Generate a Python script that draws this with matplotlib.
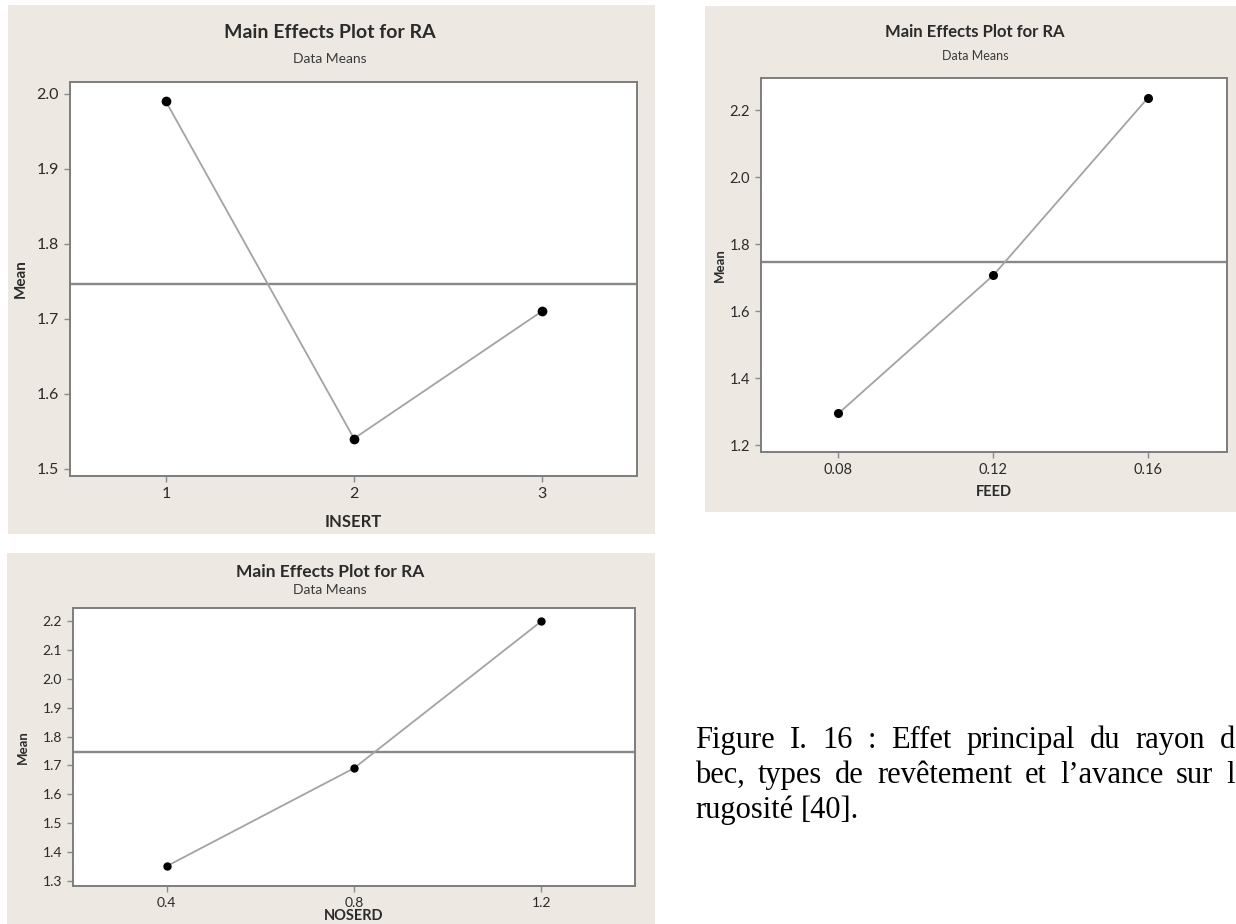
import numpy as np
import matplotlib
matplotlib.use("Agg")
import matplotlib.pyplot as plt
from matplotlib.patches import Rectangle

# ---- data: main-effect means of RA for each factor level ----
insert_levels = [1, 2, 3]
insert_labels = ["1", "2", "3"]
insert_means = [1.99, 1.54, 1.71]
insert_yticks = [1.5, 1.6, 1.7, 1.8, 1.9, 2.0]

feed_levels = [0.08, 0.12, 0.16]
feed_labels = ["0.08", "0.12", "0.16"]
feed_means = [1.295, 1.707, 2.237]
feed_yticks = [1.2, 1.4, 1.6, 1.8, 2.0, 2.2]

noserd_levels = [0.4, 0.8, 1.2]
noserd_labels = ["0.4", "0.8", "1.2"]
noserd_means = [1.35, 1.69, 2.20]
noserd_yticks = [1.3, 1.4, 1.5, 1.6, 1.7, 1.8, 1.9, 2.0, 2.1, 2.2]

title_text = "Main Effects Plot for RA"
subtitle_text = "Data Means"
caption_lines = [
    "Figure I. 16 : Effet principal du rayon d",
    "bec, types de revêtement et l’avance sur l",
    "rugosité [40].",
]

W, H = 1236, 924
BG = "#EDE9E2"
FRAME = "#7d7d7d"
LINE = "#a3a3a3"
MEANLINE = "#888888"
TXT = "#2b2b2b"
SANS = ["Lato", "DejaVu Sans"]

fig = plt.figure(figsize=(W / 100, H / 100), dpi=100)
fig.patch.set_facecolor("white")


def fx(x):
    return x / W


def fy(y):
    return 1 - y / H


def panel(bg_box, ax_box, levels, labels, means, yticks, xlim, ylim, xlabel,
          title_xy, sub_xy, title_fs, sub_fs, tick_fs, label_fs, xlabel_y,
          ylabel_x, msize):
    bx0, by0, bx1, by1 = bg_box
    fig.patches.append(Rectangle((fx(bx0), fy(by1)), (bx1 - bx0) / W,
                                 (by1 - by0) / H, transform=fig.transFigure,
                                 facecolor=BG, edgecolor="none", zorder=-5))
    l, t, r, b = ax_box
    ax = fig.add_axes([fx(l), fy(b), (r - l) / W, (b - t) / H])
    ax.set_zorder(2)
    ax.set_facecolor("white")
    ax.plot(levels, means, color=LINE, lw=1.3, zorder=2)
    ax.plot(levels, means, "o", color="black", ms=msize, zorder=3)
    ax.axhline(np.mean(means), color=MEANLINE, lw=1.7, zorder=1)
    ax.set_xlim(*xlim)
    ax.set_ylim(*ylim)
    ax.set_xticks(levels)
    ax.set_xticklabels(labels)
    ax.set_yticks(yticks)
    ax.set_yticklabels([f"{v:.1f}" for v in yticks])
    for s in ax.spines.values():
        s.set_color(FRAME)
        s.set_linewidth(1.4)
    ax.tick_params(direction="out", length=4, width=1, color="#8a8a8a",
                   labelsize=tick_fs, labelcolor=TXT, pad=4)
    for lab in ax.get_xticklabels() + ax.get_yticklabels():
        lab.set_fontfamily(SANS)
    ax.set_xlabel(xlabel, fontsize=label_fs, fontweight="bold", color=TXT,
                  family=SANS)
    ax.set_ylabel("Mean", fontsize=label_fs - 1, fontweight="bold",
                  color=TXT, family=SANS)
    ax.xaxis.set_label_coords(0.5, (b - xlabel_y) / (b - t))
    ax.yaxis.set_label_coords((ylabel_x - l) / (r - l), 0.5)
    ax.xaxis.label.set_va("center")
    ax.yaxis.label.set_va("center")
    fig.text(fx(title_xy[0]), fy(title_xy[1]), title_text, ha="center",
             va="center", fontsize=title_fs, fontweight="bold", color=TXT,
             family=SANS)
    fig.text(fx(sub_xy[0]), fy(sub_xy[1]), subtitle_text, ha="center",
             va="center", fontsize=sub_fs, color="#3a3a3a", family=SANS)
    return ax


# INSERT
panel((8, 5, 655, 534), (70, 82, 637, 476), insert_levels, insert_labels,
      insert_means, insert_yticks, (0.49, 3.505), (1.49, 2.016), "INSERT",
      (330, 33), (330, 59), 14, 10, 11.5, 12, 522, 21, 6)

# FEED
panel((705, 6, 1236, 512), (761, 78, 1227, 452), feed_levels, feed_labels,
      feed_means, feed_yticks, (0.06, 0.1804), (1.18, 2.296), "FEED",
      (975, 32), (975, 56), 12, 9, 10.5, 10.5, 492, 720, 5.5)

# NOSERD
panel((7, 553, 655, 924), (73, 608, 635, 885.5), noserd_levels,
      noserd_labels, noserd_means, noserd_yticks, (0.2, 1.4), (1.283, 2.246),
      "NOSERD", (330, 572), (330, 590), 12.5, 10, 10, 10.5, 916, 23, 5)

# ---- caption, justified like the surrounding document text ----
SERIF = ["Liberation Serif", "DejaVu Serif"]
cap_fs = 22
renderer = fig.canvas.get_renderer()
x_left, x_right = 695, 1235
baselines = [748, 783, 818]


def justified(line, y, justify):
    words = line.split(" ")
    items = [fig.text(0, fy(y), w, fontsize=cap_fs, family=SERIF,
                      color="black", va="baseline", ha="left")
             for w in words]
    widths = [it.get_window_extent(renderer).width for it in items]
    if justify and len(words) > 1:
        gap = (x_right - x_left - sum(widths)) / (len(words) - 1)
    else:
        probe = fig.text(0, 0, "a a", fontsize=cap_fs, family=SERIF, alpha=0)
        probe2 = fig.text(0, 0, "aa", fontsize=cap_fs, family=SERIF, alpha=0)
        gap = (probe.get_window_extent(renderer).width
               - probe2.get_window_extent(renderer).width)
        probe.remove()
        probe2.remove()
    x = x_left
    for it, w in zip(items, widths):
        it.set_x(fx(x))
        x += w + gap


for i, line in enumerate(caption_lines):
    justified(line, baselines[i], justify=(i < 2))

fig.savefig("out.png", dpi=100, facecolor="white")
